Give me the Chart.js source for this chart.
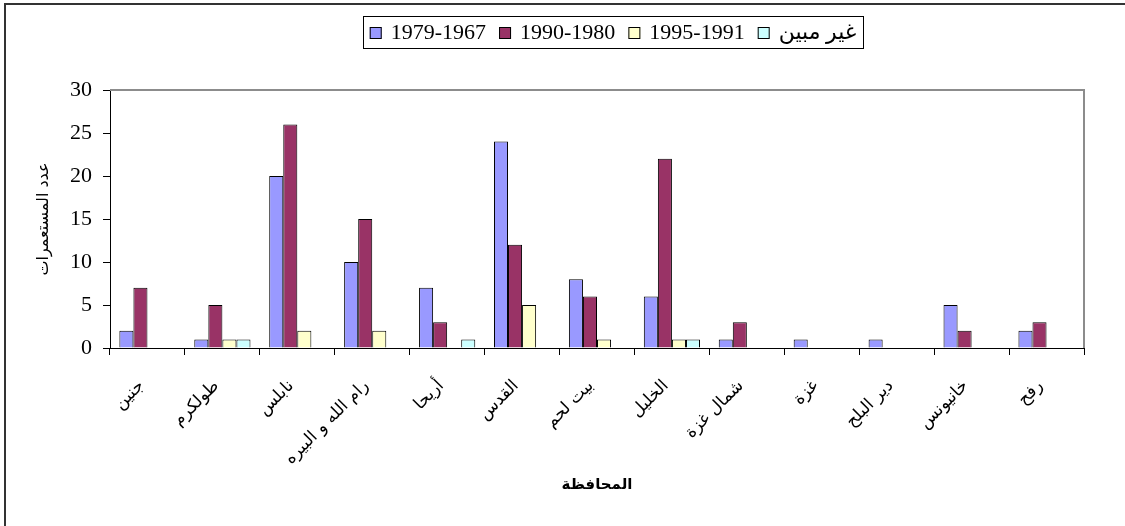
<!DOCTYPE html>
<html lang="ar">
<head>
<meta charset="utf-8">
<title>عدد المستعمرات حسب المحافظة</title>
<script src="https://cdn.jsdelivr.net/npm/chart.js@4/dist/chart.umd.min.js"></script>
<style>
    body { margin: 0; background: #fff; }
    #wrap { width: 1125px; height: 526px; }
</style>
</head>
<body>
<div id="wrap"><canvas id="settlementChart" width="1125" height="526"></canvas></div>
<script>
const governorates = ['جنين', 'طولكرم', 'نابلس', 'رام الله و البيره', 'أريحا', 'القدس', 'بيت لحم', 'الخليل', 'شمال غزة', 'غزة', 'دير البلح', 'خانيونس', 'رفح'];
const seriesLabels = ['1979-1967', '1990-1980', '1995-1991', 'غير مبين'];
const period1967 = [2, 1, 20, 10, 7, 24, 8, 6, 1, 1, 1, 5, 2];
const period1980 = [7, 5, 26, 15, 3, 12, 6, 22, 3, 0, 0, 2, 3];
const period1991 = [0, 1, 2, 2, 0, 5, 1, 1, 0, 0, 0, 0, 0];
const periodUnknown = [0, 1, 0, 0, 1, 0, 0, 1, 0, 0, 0, 0, 0];
const yMin = 0;
const yMax = 30;
const yStep = 5;

const seriesColors = ['#9999ff', '#993366', '#ffffcc', '#ccffff'];
const FONT = '"Liberation Serif", "Times New Roman", "DejaVu Sans", serif';
const ARABIC_FONT = '"DejaVu Sans", sans-serif';

// frame, plot border and legend box (drawn like the excel original)
const framePlugin = {
    id: 'frame',
    beforeDraw(chart) {
        const ctx = chart.ctx;
        ctx.save();
        ctx.fillStyle = '#fff';
        ctx.fillRect(0, 0, chart.width, chart.height);
        ctx.strokeStyle = '#333';
        ctx.lineWidth = 2;
        ctx.strokeRect(5, 4, chart.width + 20, chart.height + 20);
        ctx.restore();
    },
    afterDraw(chart) {
        const ctx = chart.ctx;
        const area = chart.chartArea;
        ctx.save();
        ctx.strokeStyle = '#8c8c8c';
        ctx.lineWidth = 2;
        ctx.beginPath();
        ctx.moveTo(area.left, area.top);
        ctx.lineTo(area.right, area.top);
        ctx.lineTo(area.right, area.bottom);
        ctx.stroke();

        // legend
        const box = { x: 363, y: 16, w: 500, h: 32 };
        ctx.fillStyle = '#fff';
        ctx.fillRect(box.x, box.y, box.w, box.h);
        ctx.strokeStyle = '#000';
        ctx.lineWidth = 1;
        ctx.strokeRect(box.x + 0.5, box.y + 0.5, box.w, box.h);

        ctx.font = '22px ' + FONT;
        ctx.textBaseline = 'middle';
        ctx.textAlign = 'left';
        const swatch = 12, gapIn = 9, gapOut = 13;
        const widths = chart.data.datasets.map(ds => ctx.measureText(ds.label).width);
        let total = 0;
        widths.forEach((w, i) => { total += swatch + gapIn + w + (i < widths.length - 1 ? gapOut : 0); });
        let x = box.x + (box.w - total) / 2;
        const cy = box.y + box.h / 2 + 1;
        chart.data.datasets.forEach((ds, i) => {
            ctx.fillStyle = ds.backgroundColor;
            ctx.fillRect(x, cy - swatch / 2, swatch, swatch);
            ctx.strokeStyle = '#000';
            ctx.strokeRect(x + 0.5, cy - swatch / 2 + 0.5, swatch - 1, swatch - 1);
            x += swatch + gapIn;
            ctx.fillStyle = '#000';
            ctx.fillText(ds.label, x, cy);
            x += widths[i] + gapOut;
        });
        ctx.restore();
    }
};

function makeDataset(label, values, color) {
    return {
        label: label,
        data: values,
        backgroundColor: color,
        borderColor: '#000',
        borderWidth: 1,
        barPercentage: 1,
        categoryPercentage: 0.75
    };
}

const ctx = document.getElementById('settlementChart').getContext('2d');
const settlementChart = new Chart(ctx, {
    type: 'bar',
    data: {
        labels: governorates,
        datasets: [
            makeDataset(seriesLabels[0], period1967, seriesColors[0]),
            makeDataset(seriesLabels[1], period1980, seriesColors[1]),
            makeDataset(seriesLabels[2], period1991, seriesColors[2]),
            makeDataset(seriesLabels[3], periodUnknown, seriesColors[3])
        ]
    },
    options: {
        responsive: false,
        animation: false,
        devicePixelRatio: 1,
        layout: {
            padding: { left: 0, top: 90, right: 41, bottom: 0 }
        },
        plugins: {
            legend: { display: false },
            tooltip: { enabled: false }
        },
        scales: {
            x: {
                offset: true,
                grid: { offset: true, drawOnChartArea: false, color: '#000', tickLength: 7 },
                border: { color: '#000', width: 1 },
                ticks: {
                    color: '#000',
                    font: { family: ARABIC_FONT, size: 17 },
                    minRotation: 45,
                    maxRotation: 45,
                    autoSkip: false,
                    padding: 21,
                    labelOffset: -6
                },
                title: {
                    display: true,
                    text: 'المحافظة',
                    color: '#000',
                    font: { family: ARABIC_FONT, size: 15, weight: 'bold' },
                    padding: { bottom: 32 }
                },
                afterFit: function(scale) {
                    scale.height = 178;
                }
            },
            y: {
                min: yMin,
                max: yMax,
                grid: { drawOnChartArea: false, color: '#000', tickLength: 7 },
                border: { color: '#000', width: 1 },
                ticks: {
                    stepSize: yStep,
                    color: '#000',
                    font: { family: FONT, size: 22 },
                    padding: 11
                },
                title: {
                    display: true,
                    text: 'عدد المستعمرات',
                    color: '#000',
                    font: { family: ARABIC_FONT, size: 16 },
                    padding: { top: 34 }
                },
                afterFit: function(scale) {
                    scale.width = 110;
                }
            }
        }
    },
    plugins: [framePlugin]
});
</script>
</body>
</html>
